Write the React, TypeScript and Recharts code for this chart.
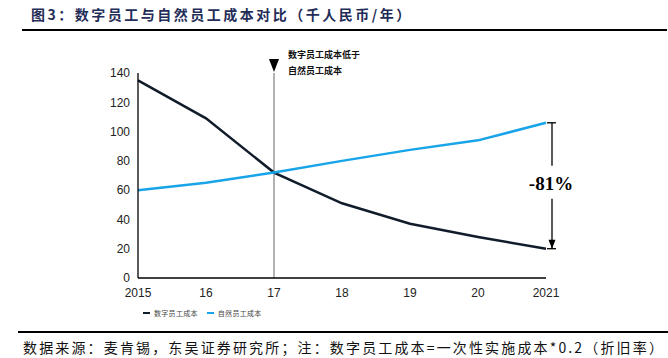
import { LineChart, Line, XAxis, YAxis, ReferenceLine } from "recharts";

const years = ["2015", "16", "17", "18", "19", "20", "2021"];
const digitalCost = [135, 109, 72, 51, 37, 28, 20];
const humanCost = [60, 65, 72, 80, 87.5, 94, 106];
const yTicks = [0, 20, 40, 60, 80, 100, 120, 140];
const seriesNames = ["数字员工成本", "自然员工成本"];
const seriesColors = ["#111c2b", "#18a4e8"];
const crossNote = ["数字员工成本低于", "自然员工成本"];
const gapLabel = "-81%";

const data = years.map((year, i) => ({
  year,
  digital: digitalCost[i],
  human: humanCost[i],
}));

const cjk = "'Noto Sans CJK SC', 'Noto Sans', sans-serif";
const narrow = "'Liberation Sans Narrow', 'Liberation Sans', Arial, sans-serif";

function CrossLabel(props: any) {
  const { viewBox } = props;
  const x = viewBox.x;
  const y = viewBox.y;
  return (
    <g>
      <polygon points={`${x - 5},${y - 14} ${x + 5},${y - 14} ${x},${y - 1}`} fill="#000" />
      <text x={x + 14} y={y - 15} fontFamily={cjk} fontSize={9} fontWeight="bold" fill="#111">
        {crossNote[0]}
      </text>
      <text x={x + 14} y={y + 1} fontFamily={cjk} fontSize={9} fontWeight="bold" fill="#111">
        {crossNote[1]}
      </text>
    </g>
  );
}

function GapArrow(props: any) {
  const x = props.x1 + 6;
  const top = Math.min(props.y1, props.y2);
  const bot = Math.max(props.y1, props.y2);
  const mid = (top + bot) / 2;
  return (
    <g stroke="#000" strokeWidth={1.3}>
      <line x1={x - 5} y1={top} x2={x + 4} y2={top} />
      <line x1={x} y1={top} x2={x} y2={mid - 20} />
      <line x1={x} y1={mid + 13} x2={x} y2={bot} />
      <line x1={x - 5} y1={bot} x2={x + 4} y2={bot} />
      <polygon points={`${x - 3.5},${bot - 9} ${x + 3.5},${bot - 9} ${x},${bot}`} fill="#000" stroke="none" />
      <text
        x={x - 1}
        y={mid + 4}
        textAnchor="middle"
        fontFamily="'Liberation Serif', 'DejaVu Serif', serif"
        fontWeight="bold"
        fontSize={19}
        fill="#000"
        stroke="none"
      >
        {gapLabel}
      </text>
    </g>
  );
}

export default function App() {
  return (
    <div style={{ position: "absolute", left: 0, top: 0, width: 668, height: 358, background: "#fff" }}>
      <div
        style={{
          position: "absolute",
          left: 31,
          top: 4,
          fontFamily: cjk,
          fontSize: 14,
          fontWeight: "bold",
          letterSpacing: 2.5,
          color: "#1f2d58",
          whiteSpace: "nowrap",
        }}
      >
        图3：数字员工与自然员工成本对比（千人民币/年）
      </div>
      <div style={{ position: "absolute", left: 22, top: 29, width: 645, height: 2, background: "#000" }} />

      <LineChart width={668} height={358} data={data} margin={{ top: 73, right: 122, left: 108, bottom: 60 }}>
        <XAxis
          dataKey="year"
          height={20}
          tickLine={false}
          axisLine={{ stroke: "#000", strokeWidth: 1.3 }}
          tick={{ fontSize: 12, fill: "#222", fontFamily: narrow, dy: 2 }}
          interval={0}
        />
        <YAxis
          width={30}
          domain={[0, 140]}
          ticks={yTicks}
          tickLine={false}
          axisLine={{ stroke: "#000", strokeWidth: 1.3 }}
          tick={{ fontSize: 12, fill: "#222", fontFamily: narrow }}
        />
        <ReferenceLine x="17" stroke="#9a9a9a" strokeWidth={1.5} label={<CrossLabel />} />
        <Line
          dataKey="digital"
          name={seriesNames[0]}
          type="linear"
          stroke={seriesColors[0]}
          strokeWidth={2.5}
          dot={false}
          isAnimationActive={false}
        />
        <Line
          dataKey="human"
          name={seriesNames[1]}
          type="linear"
          stroke={seriesColors[1]}
          strokeWidth={2.5}
          dot={false}
          isAnimationActive={false}
        />
        <ReferenceLine
          segment={[
            { x: years[6], y: humanCost[6] },
            { x: years[6], y: digitalCost[6] },
          ]}
          shape={<GapArrow />}
        />
      </LineChart>

      <div
        style={{
          position: "absolute",
          left: 143,
          top: 308,
          display: "flex",
          gap: 9,
          fontFamily: cjk,
          fontSize: 7,
          color: "#444",
        }}
      >
        {seriesNames.map((name, i) => (
          <div key={name} style={{ display: "flex", alignItems: "center", gap: 4 }}>
            <span style={{ width: 7, height: 2.5, background: seriesColors[i], display: "inline-block" }} />
            <span style={{ letterSpacing: 0.3 }}>{name}</span>
          </div>
        ))}
      </div>

      <div style={{ position: "absolute", left: 18, top: 331, width: 650, height: 2, background: "#000" }} />
      <div
        style={{
          position: "absolute",
          left: 23,
          top: 337,
          fontFamily: cjk,
          fontSize: 14,
          letterSpacing: 2.15,
          color: "#111",
          whiteSpace: "nowrap",
        }}
      >
        数据来源：麦肯锡，东吴证券研究所；注：数字员工成本=一次性实施成本*0.2（折旧率）
      </div>
    </div>
  );
}
